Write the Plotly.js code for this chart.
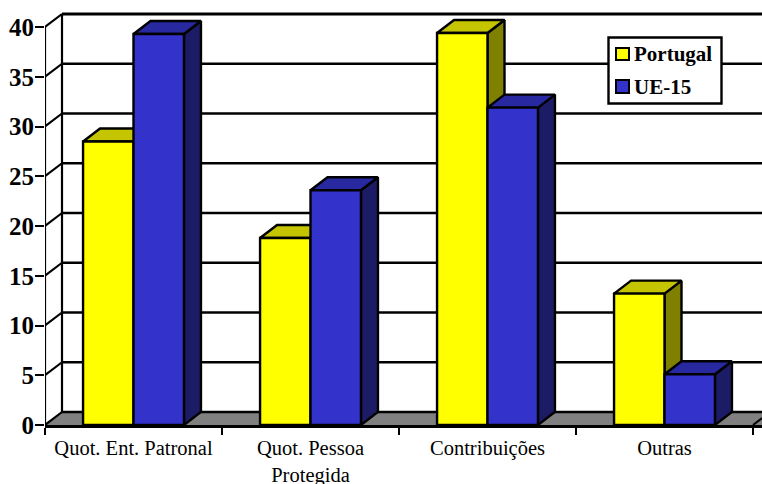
<!DOCTYPE html>
<html>
<head>
<meta charset="utf-8">
<script src="https://cdn.plot.ly/plotly-3.0.1.min.js"></script>
<style>html,body{margin:0;padding:0;background:#fff;overflow:hidden}</style>
</head>
<body>
<div id="chart" style="width:762px;height:484px"></div>
<script>
var categories = ["Quot. Ent. Patronal", "Quot. Pessoa<br>Protegida", "Contribuições", "Outras"];
var portugal = [28.5, 18.8, 39.4, 13.2];
var ue15 = [39.3, 23.6, 31.9, 5.1];
var yTicks = [0, 5, 10, 15, 20, 25, 30, 35, 40];
var seriesNames = ["Portugal", "UE-15"];

var W = 762, H = 484, L = 45, T = 10, B = 425;
var xUnit = 177, yUnit = 9.95;
var xMax = (W - L) / xUnit, yMax = (B - T) / yUnit;
var dx = 17 / xUnit, dy = 13 / yUnit;
var barW = 0.285, gap = 0.215;

var traces = [];
function line(xs, ys, width, color) {
  traces.push({x: xs, y: ys, mode: "lines", line: {color: color || "#000", width: width || 2},
    hoverinfo: "skip", showlegend: false, cliponaxis: false, xaxis: "x", yaxis: "y"});
}
function poly(xs, ys, fill) {
  traces.push({x: xs.concat(xs[0]), y: ys.concat(ys[0]), mode: "lines", fill: "toself", fillcolor: fill,
    line: {color: "#000", width: 2.4, shape: "linear"}, hoverinfo: "skip", showlegend: false,
    cliponaxis: false, xaxis: "x", yaxis: "y"});
}

// floor
traces.push({x: [0, dx, xMax, xMax, 4, 0], y: [0, dy, dy, 0, 0, 0], mode: "lines", fill: "toself",
  fillcolor: "#808080", line: {width: 0}, hoverinfo: "skip", showlegend: false, xaxis: "x", yaxis: "y"});

// back wall, grid and side wall
yTicks.forEach(function (v) {
  line([dx, xMax], [v + dy, v + dy], v === 40 ? 3 : 2.4);
  line([0, dx], [v, v + dy], 2.2);
});
line([0, 0], [0, 40], 2.2);
line([dx, dx], [dy, 40 + dy], 2.2);
line([4, 4 + (xMax - 4)], [0, (xMax - 4) * xUnit * 13 / 17 / yUnit], 2);

// depth faces of the bars
function depth(values, start, topColor, sideColor) {
  values.forEach(function (v, i) {
    var a = i + start, b = a + barW;
    poly([b, b + dx, b + dx, b], [0, dy, v + dy, v], sideColor);
    poly([a, a + dx, b + dx, b], [v, v + dy, v + dy, v], topColor);
  });
}
depth(portugal, gap, "#C4C400", "#808000");
depth(ue15, gap + barW, "#2828A0", "#1C1C66");

// front faces of the bars, on an overlay so they cover the depth faces
[portugal, ue15].forEach(function (vals, k) {
  traces.push({type: "bar", name: seriesNames[k], x: categories, y: vals,
    marker: {color: k === 0 ? "#FFFF00" : "#3333CC", line: {color: "#000", width: 2.4}},
    cliponaxis: false, xaxis: "x2", yaxis: "y2", showlegend: false,
    hovertemplate: "%{x}: %{y}<extra>" + seriesNames[k] + "</extra>"});
});

function px(p) { return (p - L) / (W - L); }
function py(p) { return (B - p) / (B - T); }
var font = "Liberation Serif, Times New Roman, serif";

var layout = {
  width: W, height: H, margin: {l: L, r: 0, t: T, b: H - B, pad: 0},
  paper_bgcolor: "#fff", plot_bgcolor: "#fff", showlegend: false,
  barmode: "group", bargap: 0.43, bargroupgap: 0,
  xaxis: {range: [0, xMax], tickmode: "array", tickvals: [0.5, 1.5, 2.5, 3.5], ticktext: categories,
    ticks: "outside", ticklen: 5, tickwidth: 0, tickcolor: "rgba(0,0,0,0)", showgrid: false, zeroline: false,
    showline: true, linecolor: "#000", linewidth: 2.5,
    minor: {tickmode: "linear", tick0: 0, dtick: 1, ticks: "outside", ticklen: 7, tickwidth: 2, tickcolor: "#000", showgrid: false},
    tickfont: {family: font, size: 20.5, color: "#000"}, tickangle: 0, ticklabelstandoff: -2, fixedrange: true},
  yaxis: {range: [0, yMax], tickmode: "array", tickvals: yTicks, ticktext: yTicks.map(String),
    ticks: "outside", ticklen: 9, tickwidth: 2, tickcolor: "#000", showgrid: false, zeroline: false, showline: false,
    tickfont: {family: font, size: 25, color: "#000", weight: "bold"}, ticklabelstandoff: -4, fixedrange: true},
  xaxis2: {overlaying: "x", anchor: "y2", type: "category", categoryorder: "array", categoryarray: categories,
    range: [-0.5, xMax - 0.5], visible: false, fixedrange: true},
  yaxis2: {overlaying: "y", anchor: "x2", range: [0, yMax], visible: false, fixedrange: true},
  shapes: [
    {type: "rect", xref: "paper", yref: "paper", x0: px(608.5), x1: px(721.5), y0: py(103.5), y1: py(37.5),
     fillcolor: "#fff", line: {color: "#000", width: 2.4}, layer: "above"},
    {type: "rect", xref: "paper", yref: "paper", x0: px(616), x1: px(629), y0: py(60), y1: py(48),
     fillcolor: "#FFFF00", line: {color: "#000", width: 2}, layer: "above"},
    {type: "rect", xref: "paper", yref: "paper", x0: px(616), x1: px(629), y0: py(93), y1: py(80),
     fillcolor: "#3333CC", line: {color: "#000", width: 2}, layer: "above"}
  ],
  annotations: [
    {xref: "paper", yref: "paper", x: px(632), y: py(54), xanchor: "left", yanchor: "middle", showarrow: false,
     text: "<b>" + seriesNames[0] + "</b>", font: {family: font, size: 21, color: "#000"}},
    {xref: "paper", yref: "paper", x: px(632), y: py(87), xanchor: "left", yanchor: "middle", showarrow: false,
     text: "<b>" + seriesNames[1] + "</b>", font: {family: font, size: 21, color: "#000"}}
  ]
};
Plotly.newPlot("chart", traces, layout, {displayModeBar: false, responsive: false});
</script>
</body>
</html>
